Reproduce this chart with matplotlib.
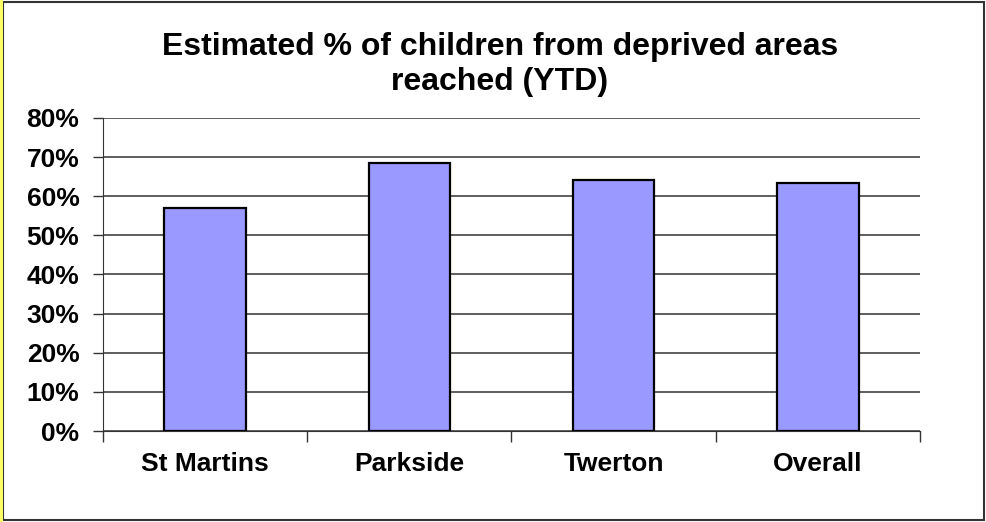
import numpy as np
import matplotlib.pyplot as plt
from matplotlib.patches import Rectangle
from matplotlib.ticker import FuncFormatter, MultipleLocator, FixedLocator

# Data
areas = ['St Martins', 'Parkside', 'Twerton', 'Overall']
reached = [57.1, 68.6, 64.1, 63.3]

plt.rcParams['font.family'] = ['Liberation Sans', 'DejaVu Sans']
plt.rcParams['font.weight'] = 'bold'

fig = plt.figure(figsize=(9.86, 5.22), dpi=100)
ax = fig.add_axes([0.1045, 0.1743, 0.8285, 0.5997])

x = np.arange(len(areas))
ax.bar(x, reached, width=0.4, color='#9999FF', edgecolor='black', linewidth=1.6, zorder=3)

ax.set_xlim(-0.5, len(areas) - 0.5)
ax.set_ylim(0, 80)
ax.yaxis.set_major_locator(MultipleLocator(10))
ax.yaxis.set_major_formatter(FuncFormatter(lambda v, p: f'{v:.0f}%'))
# gridlines everywhere except the top (80%)
for v in ax.get_yticks()[1:-1]:
    ax.axhline(v, color='#333333', linewidth=1.1, zorder=0)

ax.set_xticks(x)
ax.set_xticklabels(areas)
ax.xaxis.set_minor_locator(FixedLocator(np.arange(len(areas) + 1) - 0.5))
ax.tick_params(axis='x', which='major', length=0, pad=15, labelsize=19)
ax.tick_params(axis='x', which='minor', length=8, width=1, color='#333333')
ax.tick_params(axis='y', length=7, width=1, color='#333333', labelsize=19, pad=10)

for s in ['top', 'right']:
    ax.spines[s].set_visible(False)
ax.spines['left'].set_color('#333333')
ax.spines['bottom'].set_color('#333333')

fig.text(0.507, 0.876, 'Estimated % of children from deprived areas\nreached (YTD)',
         ha='center', va='center', fontsize=23, fontweight='bold', linespacing=1.2)

# outer chart border
fig.patches.append(Rectangle((0.003, 0.003), 0.995, 0.994, transform=fig.transFigure,
                             fill=False, edgecolor='#333333', linewidth=1.5))
fig.patches.append(Rectangle((0, 0), 0.003, 1, transform=fig.transFigure,
                             facecolor='#FFFF66', edgecolor='none'))

fig.savefig('out.png', dpi=100)
